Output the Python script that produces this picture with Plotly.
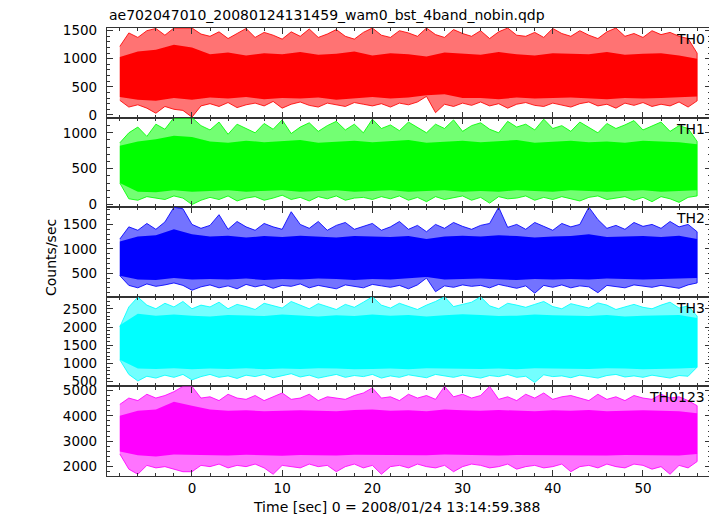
import plotly.graph_objects as go
from plotly.subplots import make_subplots

# time axis (seconds relative to 2008/01/24 13:14:59.388)
t_sec = list(range(-8, 57))          # 1-s samples of the spike envelope
t_core = list(range(-8, 57, 2))      # 2-s samples of the dense core

panel_names = ["TH0", "TH1", "TH2", "TH3", "TH0123"]
panel_colors = ["#ff0000", "#00ff00", "#0000ff", "#00ffff", "#ff00ff"]

# ---- TH0 ----
th0_hi = [1220, 1460, 1380, 1500, 1540, 1420, 1548, 1548, 1548, 1440, 1400, 1480, 1360,
          1450, 1540, 1380, 1470, 1420, 1350, 1480, 1400, 1530, 1380, 1440, 1520, 1400,
          1350, 1470, 1548, 1420, 1380, 1500, 1460, 1400, 1548, 1430, 1380, 1520, 1450,
          1400, 1500, 1360, 1480, 1548, 1420, 1400, 1470, 1380, 1540, 1450, 1400, 1500,
          1420, 1360, 1480, 1548, 1400, 1450, 1380, 1500, 1430, 1470, 1400, 1360, 1100]
th0_lo = [260, 140, 180, 120, 30, 150, 100, 80, -40, 160, 200, 150, 220,
          130, 180, 210, 160, 240, 120, 190, 230, 170, 140, 210, 180, 150,
          220, 190, 160, 200, 140, 210, 180, 230, 330, 40, 190, 150, 210,
          170, 230, 160, 200, 120, 190, 220, 170, 150, 210, 180, 140, 200,
          230, 160, 190, 120, 210, 170, 220, 150, 190, 160, 230, 140, 250]
th0_core_hi = [1030, 1130, 1160, 1250, 1200, 1080, 1110, 1060, 1100, 1080, 1120,
               1070, 1090, 1130, 1060, 1100, 1080, 1040, 1110, 1090, 1070, 1120,
               1080, 1060, 1100, 1090, 1080, 1120, 1070, 1090, 1100, 1060, 1000]
th0_core_lo = [320, 270, 250, 300, 270, 310, 290, 320, 280, 300, 290,
               310, 270, 300, 320, 290, 310, 350, 370, 300, 300, 280,
               310, 290, 300, 310, 290, 280, 300, 290, 300, 310, 330]

# ---- TH1 ----
th1_hi = [860, 1000, 1080, 950, 1120, 1050, 1212, 1212, 1212, 1100, 1040, 1150, 980,
          1120, 1060, 1000, 1130, 1050, 1180, 990, 1080, 1140, 1020, 1100, 1160, 1040,
          1120, 1000, 1190, 1060, 1110, 1030, 1150, 1080, 1000, 1120, 1060, 1180, 1020,
          1100, 1140, 1050, 1000, 1160, 1080, 1120, 1040, 1190, 1060, 1100, 1020, 1150,
          1080, 1000, 1130, 1060, 1110, 1170, 1040, 1090, 1150, 1020, 1100, 1060, 880]
th1_lo = [300, 80, 60, 110, 90, 70, 120, 90, 0, 60, 100, 70, 120,
          50, 90, 110, 60, 90, 130, 70, 100, 50, 110, 80, 120, 60,
          90, 100, 70, 110, 80, 120, 60, 100, 40, 110, 70, 90, 120,
          60, 100, 20, 110, 80, 90, 120, 60, 100, 70, 110, 80, 50,
          100, 120, 70, 90, 110, 60, 100, 40, 110, 80, 30, 100, 120]
th1_core_hi = [820, 880, 910, 960, 940, 880, 860, 890, 870, 880, 900,
               860, 880, 890, 870, 880, 900, 860, 880, 890, 870, 880,
               900, 860, 880, 890, 870, 880, 860, 890, 880, 870, 840]
th1_core_lo = [300, 180, 170, 200, 180, 190, 200, 180, 190, 200, 180,
               190, 200, 180, 190, 200, 180, 190, 200, 180, 190, 180,
               200, 190, 180, 200, 190, 180, 190, 200, 180, 190, 200]

# ---- TH2 ----
th2_hi = [1200, 1450, 1380, 1520, 1400, 1550, 1853, 1820, 1500, 1420, 1480, 1700, 1400,
          1560, 1450, 1380, 1520, 1450, 1400, 1760, 1500, 1420, 1560, 1380, 1480, 1540,
          1400, 1460, 1520, 1380, 1450, 1560, 1400, 1480, 1350, 1500, 1420, 1540, 1460,
          1400, 1480, 1520, 1853, 1440, 1500, 1400, 1540, 1460, 1380, 1520, 1450, 1500,
          1853, 1600, 1420, 1480, 1400, 1540, 1460, 1500, 1420, 1560, 1450, 1500, 1350]
th2_lo = [450, 250, 200, 280, 230, 260, 300, 250, 150, 220, 260, 200, 240,
          180, 270, 220, 260, 190, 250, 230, 280, 200, 250, 220, 180, 260,
          230, 200, 270, 240, 210, 250, 180, 260, 400, 120, 240, 210, 260,
          230, 250, 200, 270, 230, 190, 240, 90, 250, 210, 260, 200, 240,
          220, 100, 250, 230, 200, 260, 240, 210, 250, 220, 190, 260, 300]
th2_core_hi = [1150, 1250, 1280, 1400, 1300, 1250, 1270, 1230, 1260, 1240, 1270,
               1250, 1230, 1260, 1250, 1240, 1260, 1200, 1250, 1270, 1250, 1280,
               1260, 1230, 1250, 1260, 1300, 1240, 1250, 1260, 1240, 1270, 1200]
th2_core_lo = [450, 370, 360, 400, 370, 380, 370, 390, 360, 380, 370,
               390, 380, 360, 380, 370, 390, 420, 370, 380, 390, 370,
               360, 380, 370, 380, 370, 390, 380, 370, 380, 390, 400]

# ---- TH3 ----
th3_hi = [2000, 2550, 2820, 2600, 2500, 2650, 2550, 2700, 2500, 2600, 2550, 2680, 2500,
          2620, 2560, 2480, 2650, 2580, 2520, 2700, 2600, 2500, 2640, 2560, 2480, 2620,
          2540, 2680, 2828, 2600, 2520, 2650, 2560, 2480, 2600, 2700, 2828, 2560, 2620,
          2680, 2828, 2580, 2500, 2650, 2600, 2540, 2620, 2700, 2560, 2500, 2640, 2580,
          2520, 2660, 2600, 2480, 2560, 2620, 2540, 2500, 2600, 2680, 2520, 2580, 2300]
th3_lo = [1100, 700, 520, 650, 600, 680, 620, 700, 550, 640, 700, 620, 660,
          590, 680, 640, 700, 610, 660, 720, 630, 680, 600, 650, 700, 620,
          670, 640, 700, 600, 660, 620, 690, 640, 610, 700, 650, 620, 680,
          640, 600, 670, 640, 700, 620, 650, 480, 690, 640, 660, 610, 680,
          640, 600, 670, 700, 630, 660, 620, 680, 640, 600, 670, 650, 900]
th3_core_hi = [2050, 2360, 2310, 2340, 2310, 2290, 2330, 2310, 2300, 2340, 2310,
               2290, 2320, 2300, 2340, 2310, 2330, 2290, 2320, 2350, 2330, 2300,
               2310, 2340, 2320, 2310, 2300, 2330, 2290, 2310, 2320, 2330, 2250]
th3_core_lo = [1100, 860, 850, 870, 840, 860, 850, 870, 840, 860, 850,
               870, 860, 840, 850, 860, 840, 870, 850, 860, 850, 860,
               840, 870, 850, 860, 850, 870, 860, 840, 850, 860, 880]

# ---- TH0123 ----
th0123_hi = [4450, 4700, 4600, 4850, 4700, 4800, 4950, 5159, 5159, 4700, 4750, 4600, 4850,
             4700, 4650, 4800, 4600, 4750, 4900, 4650, 4700, 4850, 4600, 4750, 4700, 4650,
             4800, 4900, 5100, 4700, 4750, 4600, 4850, 4700, 4800, 4650, 5159, 4750, 4850,
             4700, 4800, 5159, 4650, 4750, 4600, 4850, 4700, 4900, 4650, 4750, 4800, 4700,
             4600, 4850, 4650, 4750, 4600, 4800, 4700, 4650, 4850, 4700, 4750, 4600, 4400]
th0123_lo = [2500, 1900, 1700, 2050, 1950, 2000, 1900, 1800, 1800, 2050, 2000, 2100, 1950,
             2050, 2000, 2100, 1950, 1700, 2050, 2000, 1950, 2100, 2000, 2050, 1800, 2000,
             2100, 1950, 2050, 1700, 2000, 2050, 1950, 2100, 2000, 1950, 2050, 1800, 2000,
             2100, 2050, 1950, 2000, 2100, 1900, 2000, 2050, 1950, 2000, 2100, 1800, 2000,
             2050, 1950, 2100, 2000, 1950, 2100, 2050, 1900, 2000, 1700, 2050, 1950, 2200]
th0123_core_hi = [4000, 4200, 4250, 4550, 4400, 4250, 4200, 4220, 4180, 4200, 4220,
                  4200, 4180, 4230, 4250, 4200, 4220, 4180, 4250, 4220, 4200, 4230,
                  4200, 4180, 4220, 4200, 4230, 4180, 4200, 4220, 4200, 4180, 4100]
th0123_core_lo = [2600, 2450, 2400, 2480, 2450, 2460, 2440, 2470, 2450, 2430, 2460,
                  2450, 2440, 2470, 2450, 2440, 2460, 2450, 2480, 2460, 2450, 2440,
                  2460, 2450, 2440, 2460, 2450, 2440, 2460, 2450, 2450, 2440, 2500]

series_hi = [th0_hi, th1_hi, th2_hi, th3_hi, th0123_hi]
series_lo = [th0_lo, th1_lo, th2_lo, th3_lo, th0123_lo]
series_core_hi = [th0_core_hi, th1_core_hi, th2_core_hi, th3_core_hi, th0123_core_hi]
series_core_lo = [th0_core_lo, th1_core_lo, th2_core_lo, th3_core_lo, th0123_core_lo]

y_ranges = [[-48, 1548], [-37, 1212], [16, 1853], [372, 2828], [1631, 5159]]
y_dticks = [500, 500, 500, 500, 1000]
y_minor = [100, 100, 100, 100, 200]

title_text = "ae702047010_20080124131459_wam0_bst_4band_nobin.qdp"
x_title = "Time [sec] 0 = 2008/01/24 13:14:59.388"
y_title = "Counts/sec"

for arrs, n in ((series_hi, 65), (series_lo, 65), (series_core_hi, 33), (series_core_lo, 33)):
    for a in arrs:
        assert len(a) == n, len(a)


def rgba(hexcol, a):
    h = hexcol.lstrip("#")
    return f"rgba({int(h[0:2],16)},{int(h[2:4],16)},{int(h[4:6],16)},{a})"


fig = make_subplots(rows=5, cols=1, shared_xaxes=True, vertical_spacing=0)

for i in range(5):
    col = panel_colors[i]
    # band spanned by the individual spikes
    fig.add_trace(go.Scatter(
        x=t_sec + t_sec[::-1], y=series_hi[i] + series_lo[i][::-1],
        fill="toself", fillcolor=rgba(col, 0.55), mode="lines",
        line=dict(width=1, color=rgba(col, 0.85)), hoverinfo="skip"), row=i + 1, col=1)
    # dense core
    fig.add_trace(go.Scatter(
        x=t_core + t_core[::-1], y=series_core_hi[i] + series_core_lo[i][::-1],
        fill="toself", fillcolor=col, mode="lines",
        line=dict(width=0), hoverinfo="skip"), row=i + 1, col=1)

axis_col = "#333333"
tickfont = dict(family="DejaVu Sans", size=13.5, color="black")

for i in range(5):
    fig.update_xaxes(
        range=[-9.42, 57.54], showline=True, linecolor=axis_col, linewidth=1.2,
        mirror="ticks", ticks="inside", ticklen=6, tickcolor=axis_col, tickwidth=1,
        tick0=0, dtick=10, showgrid=False, zeroline=False, tickfont=tickfont,
        minor=dict(dtick=2, ticks="inside", ticklen=3, tickcolor=axis_col, showgrid=False),
        row=i + 1, col=1)
    fig.update_yaxes(
        range=y_ranges[i], showline=True, linecolor=axis_col, linewidth=1.2,
        mirror="ticks", ticks="inside", ticklen=6, tickcolor=axis_col, tickwidth=1,
        tick0=0, dtick=y_dticks[i], showgrid=False, zeroline=False, tickfont=tickfont,
        ticklabelstandoff=6, automargin=False,
        minor=dict(dtick=y_minor[i], ticks="inside", ticklen=3, tickcolor=axis_col, showgrid=False),
        row=i + 1, col=1)
    yref = "y domain" if i == 0 else f"y{i + 1} domain"
    xref = "x domain" if i == 0 else f"x{i + 1} domain"
    fig.add_annotation(text=panel_names[i], xref=xref, yref=yref, x=1, y=1,
                       xanchor="right", yanchor="top", xshift=-4, yshift=-1,
                       showarrow=False, font=dict(family="DejaVu Sans", size=14, color="black"))

fig.add_annotation(text=title_text, xref="paper", yref="paper", x=0, y=1,
                   xanchor="left", yanchor="bottom", yshift=3, showarrow=False,
                   font=dict(family="DejaVu Sans", size=14, color="black"))
fig.add_annotation(text=y_title, xref="paper", yref="paper", x=-0.109, y=0.487,
                   textangle=-90, showarrow=False,
                   font=dict(family="DejaVu Sans", size=14, color="black"))
fig.add_annotation(text=x_title, xref="paper", yref="paper", x=0.48, y=-0.069,
                   yanchor="middle", showarrow=False,
                   font=dict(family="DejaVu Sans", size=14, color="black"))

# the page body adds an 8 px offset, so the figure is 8 px smaller
fig.update_layout(
    width=709, height=508, margin=dict(l=99, r=6, t=20, b=40),
    plot_bgcolor="white", paper_bgcolor="white", showlegend=False,
    font=dict(family="DejaVu Sans", size=13.5, color="black"))

fig.write_html("out.html")
